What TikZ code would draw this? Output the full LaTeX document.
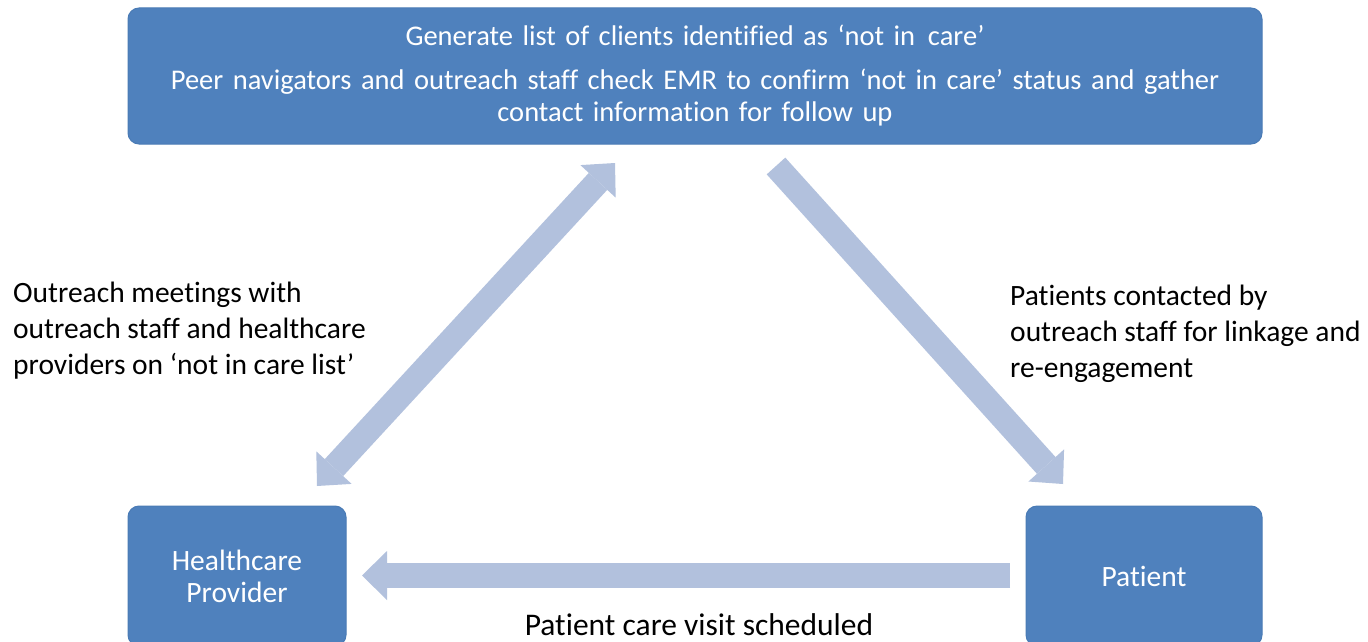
\documentclass[tikz,border=0pt]{standalone}
\usepackage{fontspec}
\setmainfont{Carlito}[Ligatures=NoCommon]
\usetikzlibrary{arrows.meta}
\definecolor{boxblue}{HTML}{4F81BD}
\definecolor{boxedge}{HTML}{4A7BB5}
\definecolor{arrowblue}{HTML}{B2C1DD}
\begin{document}
\begin{tikzpicture}[x=1pt,y=-1pt,
  box/.style={draw=boxedge, line width=1pt, fill=boxblue, rounded corners=11pt, text=white, align=center, inner sep=0pt},
  topfont/.style={font=\fontsize{28.5}{32}\selectfont},
  boxfont/.style={font=\fontsize{29.5}{32}\selectfont},
  fat/.style={draw=arrowblue, line width=25pt},
  lbl/.style={font=\fontsize{29.5}{36}\selectfont, align=left, inner sep=0pt, anchor=north west}]
\useasboundingbox (0,0) rectangle (1368,642);
\clip (0,0) rectangle (1368,642);
\fill[white] (0,0) rectangle (1368,642);
% boxes
\node[box, topfont, minimum width=1134pt, minimum height=136pt, text width=1120pt] (top) at (695,76)
  {Generate list of clients identified as ‘not in\hspace{0.45em}care’\\[12pt]
   Peer navigators and outreach staff check EMR to confirm ‘not in care’ status and gather\\
   contact information for follow up};
\node[box, boxfont, minimum width=218pt, minimum height=140pt] (hp) at (237,576)
  {Healthcare\\Provider};
\node[box, boxfont, minimum width=236pt, minimum height=140pt] (pt) at (1144,576)
  {Patient};
% arrow end points
\coordinate (la1) at (317,486);
\coordinate (la2) at (615,163);
\coordinate (ra1) at (776,166);
\coordinate (ra2) at (1063,484);
\coordinate (ba1) at (1010,575.5);
\coordinate (ba2) at (362,575.5);
\draw[fat, {Triangle[length=25pt,width=48pt,line width=0pt]}-{Triangle[length=25pt,width=48pt,line width=0pt]}] (la1) -- (la2);
\draw[fat, -{Triangle[length=25pt,width=48pt,line width=0pt]}] (ra1) -- (ra2);
\draw[fat, -{Triangle[length=25pt,width=49pt,line width=0pt]}] (ba1) -- (ba2);
% labels
\node[lbl] (ll) at (13,282) {Outreach meetings with\\outreach staff and healthcare\\providers on ‘not in care list’};
\node[lbl] (rl) at (1010,285) {Patients contacted by\\outreach staff for linkage and\\re-engagement};
\node[inner sep=0pt, font=\fontsize{31.5}{36}\selectfont] (bl) at (699,625) {Patient care visit scheduled};
\end{tikzpicture}
\end{document}
